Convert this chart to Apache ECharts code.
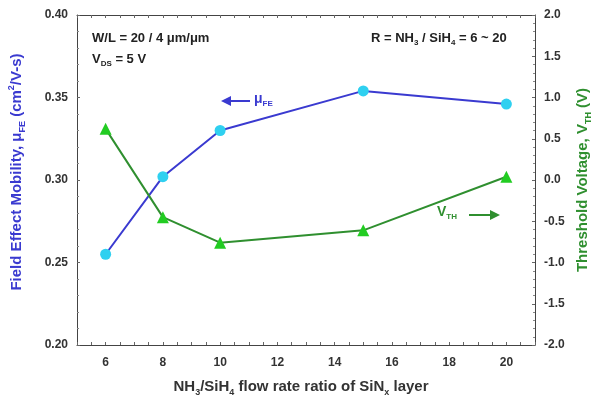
<!DOCTYPE html>
<html><head><meta charset="utf-8">
<script src="https://cdn.jsdelivr.net/npm/echarts@6/dist/echarts.min.js"></script>
<style>html,body{margin:0;padding:0;background:#fff}#c{width:591px;height:397px}</style>
</head><body><div id="c"></div>
<script>
const ratios = [6, 8, 10, 15, 20];
const mobility = [0.255, 0.302, 0.330, 0.354, 0.346];
const vth = [0.62, -0.45, -0.76, -0.61, 0.04];
const xTickLabels = [6, 8, 10, 12, 14, 16, 18, 20];

const FONT = '"Liberation Sans", Arial, sans-serif';
const BLUE = '#3a3ad0';
const GREEN = '#2f8f2f';
const chart = echarts.init(document.getElementById('c'), null, {renderer: 'canvas'});
const minorX = [];
for (let v = 5; v <= 21.001; v += 0.5) minorX.push(v);

const subRich = (color, fs) => ({
  n: {fontFamily: FONT, fontWeight: 'bold', fontSize: fs, color: color, lineHeight: fs + 5, verticalAlign: 'middle'},
  sub: {fontFamily: FONT, fontWeight: 'bold', fontSize: Math.round(fs * 0.6), color: color, lineHeight: fs + 5, verticalAlign: 'bottom'},
  sup: {fontFamily: FONT, fontWeight: 'bold', fontSize: Math.round(fs * 0.6), color: color, lineHeight: fs + 5, verticalAlign: 'top'}
});
const annRich = (color, fs) => ({
  n: {fontFamily: FONT, fontWeight: 'bold', fontSize: fs, fill: color, lineHeight: fs + 4, verticalAlign: 'middle'},
  sub: {fontFamily: FONT, fontWeight: 'bold', fontSize: Math.round(fs * 0.6), fill: color, lineHeight: fs + 4, verticalAlign: 'bottom'}
});

const labelStyle = {fontFamily: FONT, fontWeight: 'bold', fontSize: 12, color: '#333'};

chart.setOption({
  animation: false,
  backgroundColor: '#fff',
  grid: {left: 77, right: 56, top: 15, bottom: 52, containLabel: false, outerBoundsMode: 'none'},
  xAxis: [{
    type: 'value', min: 5, max: 21, position: 'bottom',
    axisLine: {onZero: false, lineStyle: {color: '#444', width: 1}},
    axisTick: {inside: true, length: 3, customValues: minorX, lineStyle: {color: '#666'}},
    axisLabel: Object.assign({customValues: xTickLabels, margin: 12}, labelStyle),
    splitLine: {show: false},
    name: '{n|NH}{sub|3}{n|/SiH}{sub|4}{n| flow rate ratio of SiN}{sub|x}{n| layer}',
    nameLocation: 'middle', nameGap: 32,
    nameTextStyle: {rich: subRich('#333', 15), padding: [0, 10, 0, 0]}
  }, {
    type: 'value', min: 5, max: 21, position: 'top',
    axisLine: {onZero: false, lineStyle: {color: '#444', width: 1}},
    axisTick: {inside: true, length: 3, customValues: minorX, lineStyle: {color: '#666'}},
    axisLabel: {show: false}, splitLine: {show: false}
  }],
  yAxis: [{
    type: 'value', min: 0.2, max: 0.4, interval: 0.05, position: 'left',
    axisLine: {show: true, onZero: false, lineStyle: {color: '#444'}},
    axisTick: {inside: true, length: 3, lineStyle: {color: '#666'}},
    minorTick: {show: true, splitNumber: 5, length: 2, lineStyle: {color: '#888'}},
    axisLabel: Object.assign({formatter: v => v.toFixed(2), margin: 9}, labelStyle),
    splitLine: {show: false},
    name: '{n|Field Effect Mobility, μ}{sub|FE}{n| (cm}{sup|2}{n|/V-s)}',
    nameLocation: 'middle', nameGap: 50,
    nameTextStyle: {rich: subRich(BLUE, 15), padding: [0, 0, 0, 16]}
  }, {
    type: 'value', min: -2, max: 2, interval: 0.5, position: 'right',
    axisLine: {show: true, onZero: false, lineStyle: {color: '#444'}},
    axisTick: {inside: true, length: 3, lineStyle: {color: '#666'}},
    minorTick: {show: true, splitNumber: 5, length: 2, lineStyle: {color: '#888'}},
    axisLabel: Object.assign({formatter: v => v.toFixed(1), margin: 9}, labelStyle),
    splitLine: {show: false},
    name: '{n|Threshold Voltage, V}{sub|TH}{n| (V)}',
    nameLocation: 'middle', nameGap: 37, nameRotate: 90,
    nameTextStyle: {rich: subRich(GREEN, 15)}
  }],
  series: [{
    type: 'line', xAxisIndex: 0, yAxisIndex: 0,
    data: ratios.map((r, i) => [r, mobility[i]]),
    symbol: 'circle', symbolSize: 11,
    lineStyle: {color: BLUE, width: 2},
    itemStyle: {color: '#2fd0f0', borderWidth: 0}
  }, {
    type: 'line', xAxisIndex: 0, yAxisIndex: 1,
    data: ratios.map((r, i) => [r, vth[i]]),
    symbol: 'triangle', symbolSize: 12,
    lineStyle: {color: GREEN, width: 2},
    itemStyle: {color: '#22cc22', borderWidth: 0}
  }],
  graphic: [
    {type: 'text', left: 92, top: 32, style: {text: '{n|W/L = 20 / 4 μm/μm}', rich: annRich('#222', 13)}},
    {type: 'text', left: 92, top: 53, style: {text: '{n|V}{sub|DS}{n| = 5 V}', rich: annRich('#222', 13)}},
    {type: 'text', left: 371, top: 32, style: {text: '{n|R = NH}{sub|3}{n| / SiH}{sub|4}{n| = 6 ~ 20}', rich: annRich('#222', 13)}},
    {type: 'line', shape: {x1: 228, y1: 101, x2: 250, y2: 101}, style: {stroke: BLUE, lineWidth: 2}},
    {type: 'polygon', shape: {points: [[221, 101], [231, 96], [231, 106]]}, style: {fill: BLUE}},
    {type: 'text', left: 254, top: 92, style: {text: '{n|μ}{sub|FE}', rich: annRich(BLUE, 14)}},
    {type: 'text', left: 437, top: 205, style: {text: '{n|V}{sub|TH}', rich: annRich(GREEN, 14)}},
    {type: 'line', shape: {x1: 469, y1: 215, x2: 492, y2: 215}, style: {stroke: GREEN, lineWidth: 2}},
    {type: 'polygon', shape: {points: [[500, 215], [490, 210], [490, 220]]}, style: {fill: GREEN}}
  ]
});
</script></body></html>
